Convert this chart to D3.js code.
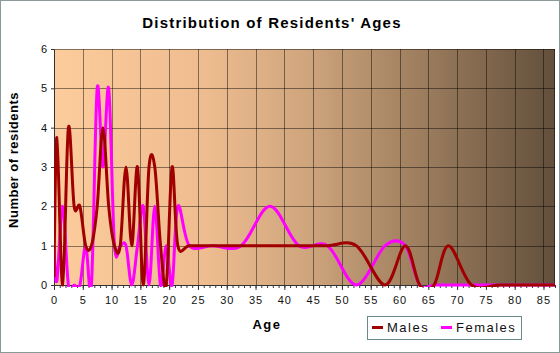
<!DOCTYPE html>
<meta charset="utf-8">
<script src="https://d3js.org/d3.v7.min.js"></script>
<style>
  body { margin: 0; background: #fff; }
  text { font-family: Arial, "Liberation Sans", sans-serif; }
</style>
<div id="chart"></div>
<script>
// age position of each data point (single years at age+0.5, census groups at their middle)
const ageGroups = ["start", "0", "1", "2", "3", "4", "5", "6", "7", "8", "9", "10",
  "11", "12", "13", "14", "15", "16", "17", "18", "19", "20", "21",
  "22-24", "25-29", "30-34", "35-39", "40-44", "45-49", "50-54", "55-59",
  "60-61", "62-64", "65-66", "67-69", "70-74", "75-79", "80-84", "85+"];
const ageX = [0, 0.5, 1.5, 2.5, 3.5, 4.5, 5.5, 6.5, 7.5, 8.5, 9.5, 10.5,
  11.5, 12.5, 13.5, 14.5, 15.5, 16.5, 17.5, 18.5, 19.5, 20.5, 21.5,
  23.5, 27.5, 32.5, 37.5, 42.5, 47.5, 52.5, 57.5,
  61, 63.5, 66, 68.5, 72.5, 77.5, 82.5, 87.5];
const males = [0.2, 3.75, 0, 4, 2, 2, 1, 1, 2, 4, 2, 1,
  1, 3, 1, 3, 0, 3, 3, 1, 0, 3, 1,
  1, 1, 1, 1, 1, 1, 1, 0,
  1, 0, 0, 1, 0, 0, 0, 0];
const females = [1, 0.1, 2, 0, 0, 0, 1, 0, 5, 3, 5, 1,
  1, 1, 0, 1, 2, 0, 2, 0, 1, 0, 2,
  1, 1, 1, 2, 1, 1, 0, 1,
  1, 0, 0, 0, 0, 0, 0, 0];
const xTicks = d3.range(0, 86, 5);
const yTicks = [0, 1, 2, 3, 4, 5, 6];

const W = 560, H = 353;
const margin = {top: 49, right: 5, bottom: 68, left: 54};
const width = W - margin.left - margin.right,
      height = H - margin.top - margin.bottom;

const svg = d3.select("#chart").append("svg")
  .attr("width", W).attr("height", H);

// outer frame
svg.append("rect")
  .attr("x", 0.5).attr("y", 0.5).attr("width", W - 1).attr("height", H - 1)
  .attr("fill", "#fff").attr("stroke", "#8a9a9a");

const defs = svg.append("defs");
const grad = defs.append("linearGradient").attr("id", "bg")
  .attr("x1", "0%").attr("x2", "100%").attr("y1", "0%").attr("y2", "0%");
[[0, "#fdcc9c"], [0.3, "#eebc8f"], [0.5, "#d0a67e"], [0.7, "#a48362"], [1, "#624f3c"]]
  .forEach(s => grad.append("stop").attr("offset", s[0]).attr("stop-color", s[1]));
// clip the curves sideways and just under the zero line
defs.append("clipPath").attr("id", "clip").append("rect")
  .attr("x", 0).attr("y", -20).attr("width", width).attr("height", height + 22);

const g = svg.append("g").attr("transform", `translate(${margin.left},${margin.top})`);

const x = d3.scaleLinear().domain([0, 87]).range([0, width]);
const y = d3.scaleLinear().domain([0, 6]).range([height, 0]);

g.append("rect").attr("width", width).attr("height", height).attr("fill", "url(#bg)");

// grid
g.append("g").selectAll("line").data(yTicks.slice(1)).join("line")
  .attr("x1", 0).attr("x2", width)
  .attr("y1", d => Math.round(y(d)) + 0.5).attr("y2", d => Math.round(y(d)) + 0.5)
  .attr("stroke", "#000").attr("stroke-opacity", 0.45);
g.append("g").selectAll("line").data(xTicks.slice(1)).join("line")
  .attr("x1", d => Math.round(x(d)) + 0.5).attr("x2", d => Math.round(x(d)) + 0.5)
  .attr("y1", 0).attr("y2", height)
  .attr("stroke", "#000").attr("stroke-opacity", 0.45);
g.append("line").attr("x1", width - 0.5).attr("x2", width - 0.5).attr("y1", 0).attr("y2", height)
  .attr("stroke", "#000").attr("stroke-opacity", 0.45);

// axes
const xAxis = g.append("g").attr("transform", `translate(0,${height})`)
  .call(d3.axisBottom(x).tickValues(xTicks).tickSize(5).tickPadding(6));
g.append("g").attr("transform", `translate(0,${height})`)
  .call(d3.axisBottom(x).tickValues(d3.range(0, 88)).tickSize(3).tickFormat(""))
  .call(a => a.select(".domain").remove())
  .selectAll("line").attr("stroke", "#333");
const yAxis = g.append("g")
  .call(d3.axisLeft(y).tickValues(yTicks).tickFormat(d3.format("d")).tickSize(3).tickPadding(3));
[xAxis, yAxis].forEach(a => {
  a.selectAll("path, line").attr("stroke", "#333");
  a.selectAll("text").attr("fill", "#111").style("font-size", "11px").style("letter-spacing", "1px");
});
xAxis.select(".domain").attr("d", `M0,0.5H${width}`);

// lines
const line = d3.line()
  .x((d, i) => x(ageX[i]))
  .y(d => y(d))
  .curve(d3.curveCatmullRom.alpha(0));
const lines = g.append("g").attr("clip-path", "url(#clip)");
lines.append("path").datum(females).attr("d", line)
  .attr("fill", "none").attr("stroke", "#ff00ff").attr("stroke-width", 3);
lines.append("path").datum(males).attr("d", line)
  .attr("fill", "none").attr("stroke", "#a00000").attr("stroke-width", 3);

// titles
svg.append("text").attr("x", 272).attr("y", 28).attr("text-anchor", "middle")
  .style("font-size", "15px").style("font-weight", "bold").style("letter-spacing", "1.2px")
  .text("Distribution of Residents' Ages");
svg.append("text").attr("x", 267).attr("y", 329).attr("text-anchor", "middle")
  .style("font-size", "13px").style("font-weight", "bold").style("letter-spacing", "1.5px")
  .text("Age");
svg.append("text").attr("transform", "translate(18,160) rotate(-90)").attr("text-anchor", "middle")
  .style("font-size", "13px").style("font-weight", "bold").style("letter-spacing", "0.5px")
  .text("Number of residents");

// legend
const legend = svg.append("g");
legend.append("rect").attr("x", 367.5).attr("y", 316.5).attr("width", 154).attr("height", 23)
  .attr("fill", "none").attr("stroke", "#6a8a8a");
const series = [{name: "Males", color: "#a00000", lx: 372}, {name: "Females", color: "#ff00ff", lx: 441}];
series.forEach(s => {
  legend.append("line").attr("x1", s.lx).attr("x2", s.lx + 11).attr("y1", 327.5).attr("y2", 327.5)
    .attr("stroke", s.color).attr("stroke-width", 3);
  legend.append("text").attr("x", s.lx + 15).attr("y", 332)
    .style("font-size", "13px").style("letter-spacing", "1.5px").attr("fill", "#111")
    .text(s.name);
});
</script>
